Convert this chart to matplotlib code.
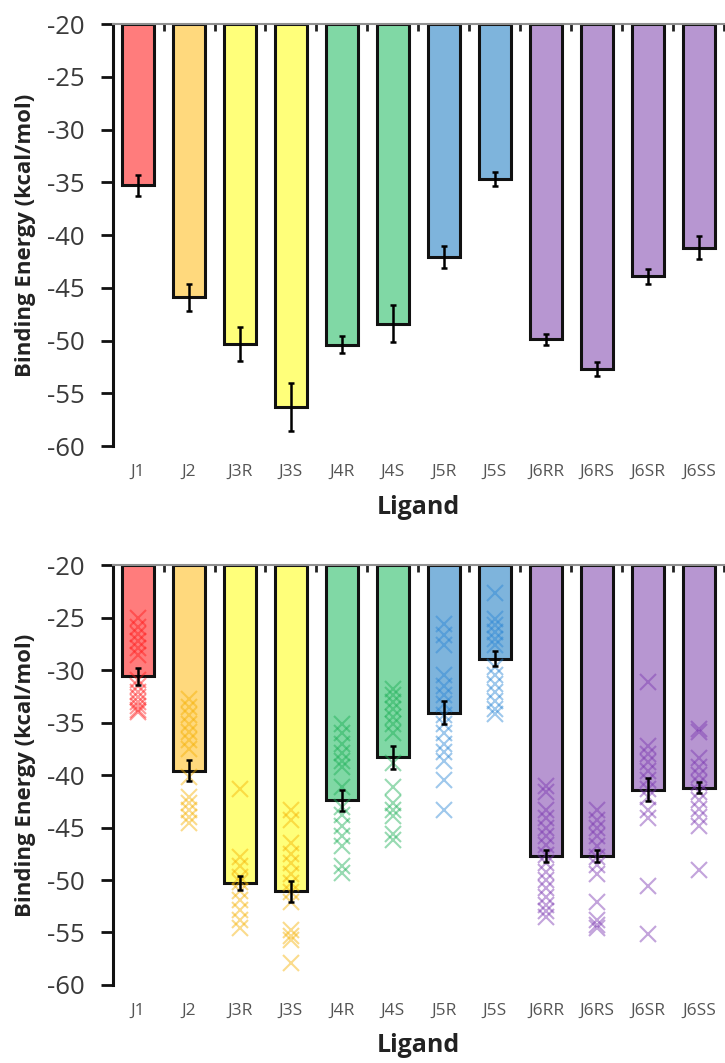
import numpy as np
import matplotlib.pyplot as plt
from matplotlib.ticker import FixedLocator

plt.rcParams['font.family'] = ['Open Sans', 'DejaVu Sans']
plt.rcParams['axes.unicode_minus'] = False

# ligands and colours
ligands = ['J1', 'J2', 'J3R', 'J3S', 'J4R', 'J4S', 'J5R', 'J5S',
           'J6RR', 'J6RS', 'J6SR', 'J6SS']
bar_colors = ['#FF7C7C', '#FFD97D', '#FFFF7A', '#FFFF7A', '#80D8A5', '#80D8A5',
              '#7EB4DC', '#7EB4DC', '#B796D1', '#B796D1', '#B796D1', '#B796D1']
pt_colors = ['#FF1A1A', '#F5B000', '#F5B000', '#F5B000', '#1BAF55', '#1BAF55',
             '#2A86D6', '#2A86D6', '#7A35B0', '#7A35B0', '#7A35B0', '#7A35B0']

# top panel: mean binding energy and error
top_mean = [-35.3, -45.9, -50.3, -56.3, -50.4, -48.4, -42.1, -34.7,
            -49.9, -52.7, -43.9, -41.2]
top_err = [1.0, 1.3, 1.6, 2.25, 0.8, 1.75, 1.07, 0.65, 0.5, 0.7, 0.7, 1.1]

# bottom panel: mean, error and individual runs
bot_mean = [-30.6, -39.6, -50.3, -51.05, -42.4, -38.3, -34.05, -28.9,
            -47.7, -47.7, -41.4, -41.2]
bot_err = [0.8, 1.0, 0.65, 1.0, 1.0, 1.1, 1.1, 0.75, 0.6, 0.55, 1.1, 0.55]

runs_J1 = [-25.0, -25.9, -26.6, -27.2, -27.9, -28.6, -30.9, -31.5, -32.1,
           -32.6, -33.0, -33.4, -33.8, -34.0]
runs_J2 = [-32.8, -33.5, -34.3, -35.1, -35.9, -36.7, -37.5, -40.2, -42.1,
           -42.7, -43.3, -44.0, -44.6]
runs_J3R = [-41.3, -47.8, -48.7, -49.7, -50.2, -51.0, -51.9, -52.9, -53.8,
            -54.6]
runs_J3S = [-43.3, -44.3, -46.5, -47.5, -48.4, -49.4, -50.3, -51.1, -52.1,
            -54.8, -55.3, -55.7, -57.9]
runs_J4R = [-35.1, -36.0, -37.0, -37.9, -38.7, -39.2, -41.1, -43.0, -43.8,
            -44.9, -45.8, -46.8, -48.7, -49.3]
runs_J4S = [-31.8, -32.4, -33.0, -33.7, -34.5, -35.1, -36.0, -38.9, -41.1,
            -42.7, -43.3, -43.9, -45.6, -46.2]
runs_J5R = [-25.6, -26.7, -27.6, -30.5, -31.5, -32.4, -33.2, -34.3, -35.1,
            -36.0, -37.0, -37.8, -38.7, -40.5, -43.3]
runs_J5S = [-22.7, -25.1, -25.7, -26.4, -27.0, -27.6, -29.7, -30.5, -31.3,
            -32.1, -32.9, -33.7, -34.2]
runs_J6RR = [-41.0, -41.6, -43.3, -44.1, -45.0, -45.8, -46.7, -47.6, -48.4,
             -49.2, -50.0, -50.8, -51.6, -52.4, -53.0, -53.5]
runs_J6RS = [-43.3, -44.3, -45.0, -45.8, -46.8, -47.8, -48.6, -49.4, -52.1,
             -53.8, -54.3, -54.6]
runs_J6SR = [-31.1, -37.2, -38.0, -38.8, -39.6, -40.5, -41.3, -42.1, -43.3,
             -44.1, -50.6, -55.1]
runs_J6SS = [-35.6, -35.9, -38.4, -39.2, -40.0, -40.8, -41.6, -42.4, -43.2,
             -44.0, -44.9, -49.0]
runs = [runs_J1, runs_J2, runs_J3R, runs_J3S, runs_J4R, runs_J4S, runs_J5R,
        runs_J5S, runs_J6RR, runs_J6RS, runs_J6SR, runs_J6SS]

yticks = np.arange(-60, -15, 5)
base = -20

fig = plt.figure(figsize=(7.25, 10.63), dpi=100)
ax1 = fig.add_axes([0.1552, 0.5804, 0.844, 0.397])
ax2 = fig.add_axes([0.1552, 0.0734, 0.844, 0.395])

x = np.arange(len(ligands))


def style_axis(ax):
    ax.set_xlim(-0.5, len(ligands) - 0.5)
    ax.set_ylim(-60, -20)
    ax.set_yticks(yticks)
    ax.set_yticklabels([str(v) for v in yticks])
    ax.set_xticks(x)
    ax.set_xticklabels(ligands)
    ax.xaxis.set_minor_locator(FixedLocator(x + 0.5))
    ax.tick_params(axis='x', which='major', length=0, pad=13,
                   labelsize=12.5, labelcolor='#555555')
    ax.tick_params(axis='x', which='minor', top=True, bottom=False,
                   direction='in', length=5, width=2, color='#222222')
    ax.tick_params(axis='y', length=9, width=2, pad=11, labelsize=18.5,
                   labelcolor='#3a3a3a', color='#111111')
    for s in ['right', 'bottom']:
        ax.spines[s].set_visible(False)
    ax.spines['left'].set_linewidth(2.2)
    ax.spines['left'].set_color('#111111')
    ax.spines['top'].set_linewidth(1.5)
    ax.spines['top'].set_color('#909090')
    ax.set_ylabel('Binding Energy (kcal/mol)', fontsize=16, fontweight='bold',
                  color='#222222')
    ax.yaxis.set_label_coords(-0.125, 0.5)
    ax.set_xlabel('Ligand', fontsize=18, fontweight='bold', color='#222222')
    ax.xaxis.set_label_coords(0.5, -0.115)


# top chart
ax1.bar(x, np.array(top_mean) - base, bottom=base, width=0.63,
        color=bar_colors, edgecolor='#111111', linewidth=2.2, zorder=2)
ax1.errorbar(x, top_mean, yerr=top_err, fmt='none', ecolor='black',
             elinewidth=1.8, capsize=2.5, capthick=1.8, zorder=3)
style_axis(ax1)

# bottom chart with individual runs
ax2.bar(x, np.array(bot_mean) - base, bottom=base, width=0.63,
        color=bar_colors, edgecolor='#111111', linewidth=2.2, zorder=2)
for i, r in enumerate(runs):
    ax2.plot([x[i]] * len(r), r, linestyle='none', marker='x', markersize=11,
             markeredgewidth=1.5, color=pt_colors[i], alpha=0.45, zorder=3)
ax2.errorbar(x, bot_mean, yerr=bot_err, fmt='none', ecolor='black',
             elinewidth=1.8, capsize=2.5, capthick=1.8, zorder=4)
style_axis(ax2)

fig.savefig('out.png', dpi=100)
